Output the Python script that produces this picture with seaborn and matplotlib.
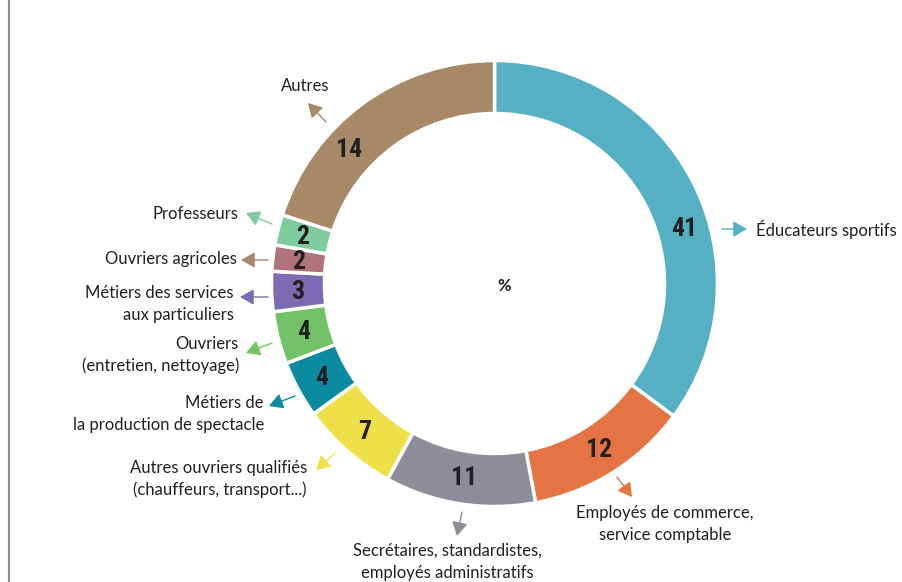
import numpy as np
import seaborn as sns
from matplotlib import pyplot as plt
from matplotlib.lines import Line2D

# categories, clockwise from the top
categories = ["Éducateurs sportifs",
              "Employés de commerce,\nservice comptable",
              "Secrétaires, standardistes,\nemployés administratifs",
              "Autres ouvriers qualifiés\n(chauffeurs, transport...)",
              "Métiers de\nla production de spectacle",
              "Ouvriers\n(entretien, nettoyage)",
              "Métiers des services\naux particuliers",
              "Ouvriers agricoles",
              "Professeurs",
              "Autres"]
# printed percentages
pct_labels = [41, 12, 11, 7, 4, 4, 3, 2, 2, 14]
# slice sizes as drawn in the picture (%)
slice_share = [35.1, 11.9, 10.9, 7.1, 4.1, 3.8, 2.9, 1.9, 2.2, 20.0]

colors = ["#55b0c3", "#e57444", "#8e8c99", "#efe04a", "#0c8aa0",
          "#74c267", "#7b6bb2", "#b0737c", "#7ecb9d", "#a78867"]
arrow_colors = colors.copy()
arrow_colors[7] = "#a78867"

W, H = 903, 582
sns.set_theme(style="white")
plt.rcParams['font.family'] = ['Lato', 'DejaVu Sans']

fig = plt.figure(figsize=(W / 100, H / 100), dpi=100)
ax = fig.add_axes([0, 0, 1, 1])

cx, cy = 494.5, H - 283.5
r_out, r_in = 223, 170

ax.pie(slice_share, colors=colors, startangle=90, counterclock=False,
       radius=r_out, center=(cx, cy),
       wedgeprops=dict(width=r_out - r_in, edgecolor='white', linewidth=2.5))

ax.set_xlim(0, W)
ax.set_ylim(0, H)
ax.set_aspect('equal')
ax.axis('off')

# number labels in the ring (mid-angle, two hand-placed in the original)
bounds = np.cumsum([0] + slice_share)
mid_angles = 90 - (bounds[:-1] + bounds[1:]) / 2 * 3.6
mid_angles[0] = 16
mid_angles[9] = 137.5
r_lab = 197
num_fonts = ['Liberation Sans Narrow', 'Roboto Condensed', 'DejaVu Sans Condensed',
             'Open Sans Condensed', 'Roboto', 'DejaVu Sans']
for val, ang in zip(pct_labels, mid_angles):
    a = np.radians(ang)
    ax.text(cx + r_lab * np.cos(a), cy + r_lab * np.sin(a), str(val),
            ha='center', va='center', fontsize=18.5, fontweight='bold',
            fontstretch='condensed', color='#231f20', family=num_fonts)

ax.text(cx + 10, cy - 2, "%", ha='center', va='center', fontsize=12,
        fontweight='bold', color='#231f20')

# category labels: arrow start, arrow end, text position (image pixels), alignment
label_layout = [
    ((722, 229), (747, 229), (756, 229), 'left'),
    ((617, 477), (632, 497), (665, 524), 'center'),
    ((462, 512), (457, 536), (447, 562), 'center'),
    ((335, 453), (316, 470), (307, 479), 'right'),
    ((295, 396), (269, 406), (264, 414), 'right'),
    ((272, 343), (246, 353), (239, 355), 'right'),
    ((268, 297), (240, 297), (234, 304), 'right'),
    ((268, 260), (241, 260), (237, 259), 'right'),
    ((272, 224), (246, 213), (238, 214), 'right'),
    ((326, 122), (308, 103), (305, 86), 'center'),
]

for name, col, (p0, p1, pt, ha) in zip(categories, arrow_colors, label_layout):
    ax.annotate("", xy=(p1[0], H - p1[1]), xytext=(p0[0], H - p0[1]),
                arrowprops=dict(arrowstyle="-|>,head_length=0.7,head_width=0.4",
                                color=col, lw=1, shrinkA=0, shrinkB=0))
    ax.text(pt[0], H - pt[1], name, ha=ha, va='center', fontsize=12,
            color='#231f20', linespacing=1.45, multialignment=ha)

# frame line on the left
fig.add_artist(Line2D([8.5 / W, 8.5 / W], [0, 1], color='#8c8c8c', lw=1.6))

fig.savefig("out.png", dpi=100)
